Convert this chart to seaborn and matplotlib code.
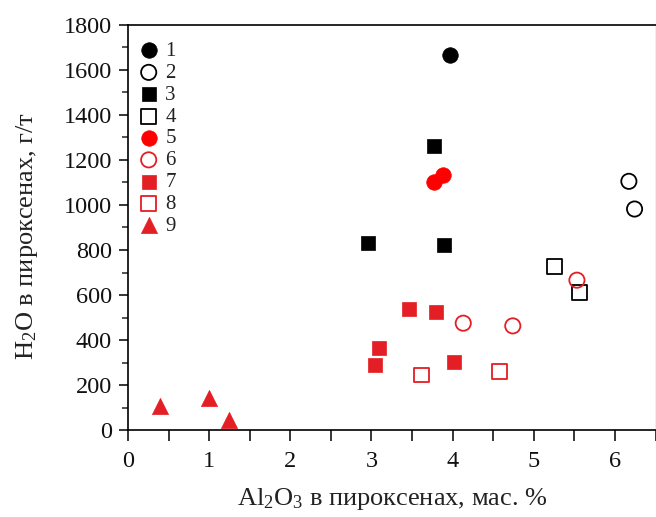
import matplotlib
matplotlib.use("Agg")
import matplotlib.pyplot as plt
import seaborn as sns
from matplotlib.ticker import MultipleLocator

sns.set_theme(style="ticks")
plt.rcParams["font.family"] = ["Liberation Serif", "DejaVu Serif"]
plt.rcParams["mathtext.fontset"] = "custom"
plt.rcParams["mathtext.rm"] = "Liberation Serif"
plt.rcParams["mathtext.it"] = "Liberation Serif:italic"

# Al2O3 (wt.%) and H2O (ppm) in pyroxenes, by sample group
g1_x = [3.97]
g1_y = [1665]
g2_x = [6.17, 6.24]
g2_y = [1105, 982]
g3_x = [3.77, 2.96, 3.89]
g3_y = [1262, 830, 823]
g4_x = [5.25, 5.56]
g4_y = [727, 610]
g5_x = [3.77, 3.88]
g5_y = [1101, 1131]
g6_x = [4.13, 4.74, 5.53]
g6_y = [475, 463, 666]
g7_x = [3.46, 3.80, 3.09, 3.04, 4.01]
g7_y = [537, 525, 364, 290, 302]
g8_x = [3.62, 4.58]
g8_y = [245, 262]
g9_x = [0.40, 1.00, 1.25]
g9_y = [105, 144, 47]

group_labels = ["1", "2", "3", "4", "5", "6", "7", "8", "9"]

BLACK = "#000000"
RED = "#ff0000"
DRED = "#e31e24"

groups = [
    (g1_x, g1_y, "o", BLACK, True, 125),
    (g2_x, g2_y, "o", BLACK, False, 120),
    (g3_x, g3_y, "s", BLACK, True, 92),
    (g4_x, g4_y, "s", BLACK, False, 115),
    (g5_x, g5_y, "o", RED, True, 125),
    (g6_x, g6_y, "o", DRED, False, 120),
    (g7_x, g7_y, "s", DRED, True, 92),
    (g8_x, g8_y, "s", DRED, False, 115),
    (g9_x, g9_y, "^", DRED, True, 135),
]

fig = plt.figure(figsize=(6.56, 5.17), dpi=100)
ax = fig.add_axes([0.195, 0.168, 0.8045, 0.784])

for (xs, ys, mk, col, filled, size), lab in zip(groups, group_labels):
    if filled:
        sns.scatterplot(x=xs, y=ys, ax=ax, marker=mk, s=size, color=col,
                        edgecolor=col, linewidth=0.5, label=lab, zorder=3)
    else:
        sns.scatterplot(x=xs, y=ys, ax=ax, marker=mk, s=size,
                        facecolor="none", edgecolor=col, linewidth=1.3,
                        label=lab, zorder=3)

ax.set_xlim(0, 6.5)
ax.set_ylim(0, 1800)
ax.xaxis.set_major_locator(MultipleLocator(1))
ax.xaxis.set_minor_locator(MultipleLocator(0.5))
ax.yaxis.set_major_locator(MultipleLocator(200))
ax.yaxis.set_minor_locator(MultipleLocator(100))

for side in ["left", "bottom", "top"]:
    ax.spines[side].set_visible(True)
    ax.spines[side].set_color("black")
    ax.spines[side].set_linewidth(1.2)
ax.spines["right"].set_visible(True)
ax.spines["right"].set_color("#b0b0b0")
ax.spines["right"].set_linewidth(1.0)

ax.tick_params(axis="x", which="both", direction="out", length=8, width=1.1,
               labelsize=17.5, pad=7, colors="black", top=False)
ax.tick_params(axis="y", which="major", direction="out", length=6.5, width=1.1,
               labelsize=17.5, pad=5, colors="black", right=False)
ax.tick_params(axis="y", which="minor", direction="out", length=4, width=1.1,
               right=False)
for lbl in ax.get_xticklabels() + ax.get_yticklabels():
    lbl.set_color("#111111")

ax.set_xlabel(r"Al$_\mathrm{2}$O$_\mathrm{3}$ в пироксенах, мас. %",
              fontsize=19, labelpad=10, color="#222222")
ax.set_ylabel(r"H$_\mathrm{2}$O в пироксенах, г/т",
              fontsize=19, labelpad=17, color="#222222")
ax.yaxis.label.set_y(0.478)

leg = ax.legend(loc="upper left", bbox_to_anchor=(-0.008, 0.99), frameon=False,
                fontsize=15, handletextpad=0.2, labelspacing=0.11,
                borderaxespad=0.3, handlelength=1.2, borderpad=0.3)
for t in leg.get_texts():
    t.set_color("#222222")

ax.grid(False)
fig.savefig("out.png", dpi=100)
